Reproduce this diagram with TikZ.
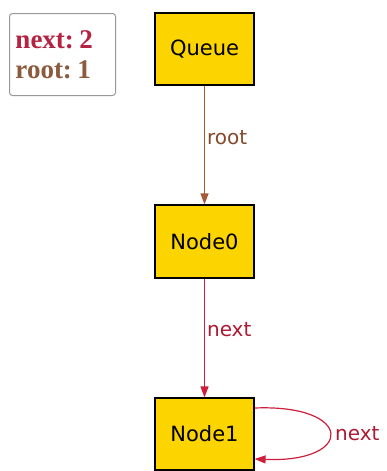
\documentclass[tikz,border=0pt]{standalone}
\usepackage{fontspec}
\setmainfont{DejaVu Sans}
\newfontfamily\legendfont{Liberation Serif}
\usetikzlibrary{arrows.meta}

\definecolor{boxfill}{RGB}{252,212,0}
\definecolor{nextcol}{RGB}{205,30,60}
\definecolor{rootcol}{RGB}{165,90,55}
\definecolor{nextdark}{RGB}{180,35,65}
\definecolor{rootdark}{RGB}{140,90,60}

\tikzset{
  objbox/.style={draw=black, line width=1.2pt, fill=boxfill, minimum width=99pt,
    minimum height=72pt, inner sep=0pt, font=\fontsize{21}{24}\selectfont},
  reltip/.style={-{Triangle[length=11pt,width=8pt]}, line width=1.2pt},
  rellabel/.style={right, inner sep=2pt, font=\fontsize{20}{24}\selectfont},
  legendbox/.style={draw=gray!80, line width=1pt, rounded corners=3pt, fill=white,
    anchor=north west, text width=94pt, inner xsep=6pt, minimum height=82pt,
    align=left, font=\legendfont\bfseries\fontsize{27}{30}\selectfont}
}

\begin{document}
\begin{tikzpicture}[x=1pt, y=-1pt]
\useasboundingbox (0,0) rectangle (387,471);
\def\xM{204.5}

% Legend
\node[legendbox] (legend) at (9,13)
  {\textcolor{nextdark}{next:\hspace{0.2em}2}\\\textcolor{rootdark}{root:\hspace{0.2em}1}};

% Objects
\node[objbox] (queue) at (\xM,49) {Queue};
\node[objbox, minimum height=73pt] (node0) at (\xM,241.5) {Node0};
\node[objbox] (node1) at (\xM,434) {Node1};

% root
\draw[reltip, draw=rootcol] (queue) -- (node0)
  node[rellabel, pos=0.44, text=rootcol!80!black] (rootlbl) {root};

% next
\draw[reltip, draw=nextcol] (node0) -- (node1)
  node[rellabel, pos=0.43, text=nextcol!85!black] (nextlbl) {next};

% next (self loop)
\draw[reltip, draw=nextcol] ([yshift=26pt]node1.east)
  .. controls +(100,-4) and +(100,4) .. ([yshift=-25pt]node1.east)
  node[rellabel, pos=0.5, inner sep=5pt, text=nextcol!85!black] (looplbl) {next};
\end{tikzpicture}
\end{document}
